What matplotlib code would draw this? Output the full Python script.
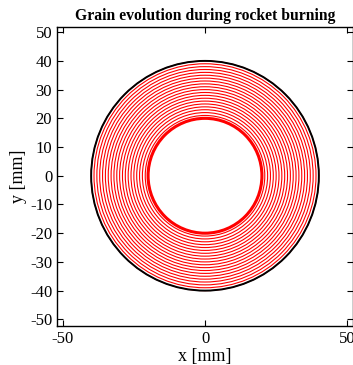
import matplotlib.pyplot as plt
from matplotlib.patches import Circle

plt.rcParams['font.family'] = ['Liberation Serif', 'DejaVu Serif']
plt.rcParams['axes.unicode_minus'] = False

# burning front radii [mm]
R_INNER = 20.0
R_OUTER = 40.0
RADII = [20, 21, 22, 23, 24, 25, 26, 27, 28, 29, 30,
         31, 32, 33, 34, 35, 36, 37, 38, 39, 40]
XTICKS = [-50, 0, 50]
YTICKS = [-50, -40, -30, -20, -10, 0, 10, 20, 30, 40, 50]

fig = plt.figure(figsize=(3.53, 3.65), dpi=100)
ax = fig.add_axes([0.1615, 0.107, 0.8385, 0.819])

for r in RADII:
    ax.add_patch(Circle((0, 0), r, fill=False, edgecolor='red', lw=0.8))
ax.add_patch(Circle((0, 0), R_INNER, fill=False, edgecolor='red', lw=2.2))
ax.add_patch(Circle((0, 0), R_OUTER, fill=False, edgecolor='black', lw=1.4))

ax.set_xlim(-52, 52)
ax.set_ylim(-52.3, 51.8)
ax.set_xticks(XTICKS)
ax.set_yticks(YTICKS)
ax.tick_params(direction='in', top=True, right=True, labelsize=12, length=4, width=0.8)
for s in ax.spines.values():
    s.set_linewidth(1.0)

ax.set_title('Grain evolution during rocket burning', fontsize=11.3, fontweight='bold', pad=5)
ax.set_xlabel('x [mm]', fontsize=13, labelpad=1)
ax.set_ylabel('y [mm]', fontsize=13, labelpad=2)

fig.savefig('out.png', dpi=100)
